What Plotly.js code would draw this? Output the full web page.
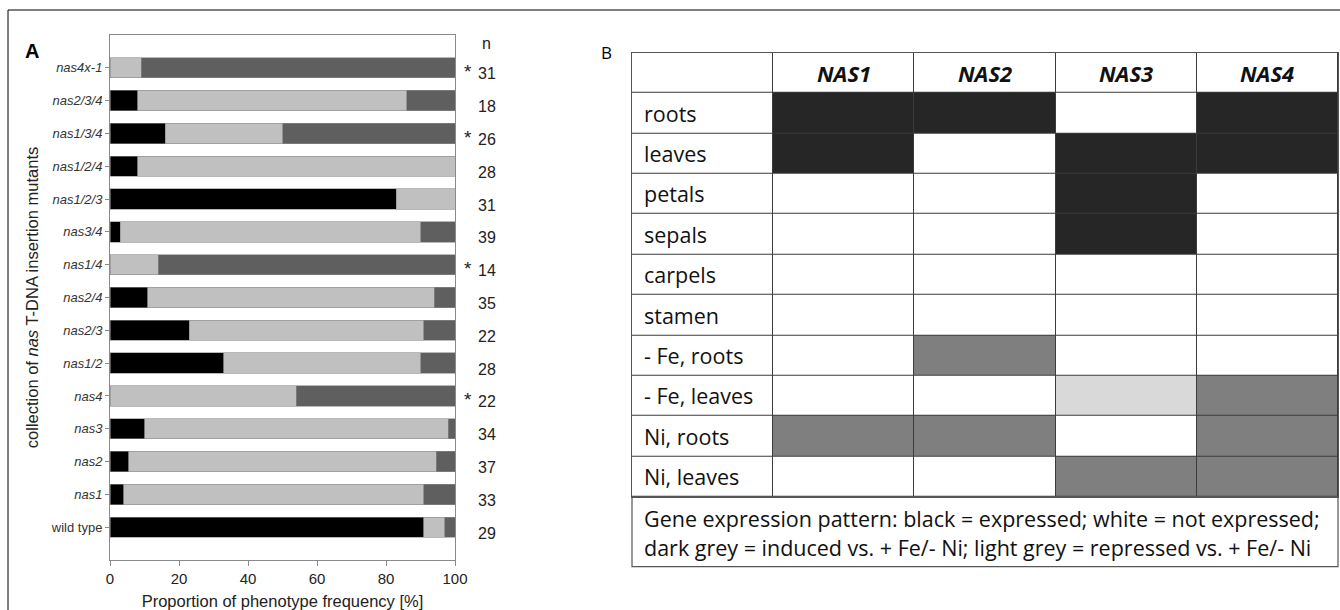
<!DOCTYPE html>
<html><head><meta charset="utf-8">
<script src="https://cdn.plot.ly/plotly-3.0.1.min.js"></script>
<style>html,body{margin:0;padding:0;background:#fff}#chart{width:1340px;height:610px}</style>
</head><body><div id="chart"></div>
<script>
// ---------- Panel A data (top to bottom) ----------
const mutants = ['nas4x-1','nas2/3/4','nas1/3/4','nas1/2/4','nas1/2/3','nas3/4','nas1/4','nas2/4','nas2/3','nas1/2','nas4','nas3','nas2','nas1','wild type'];
const phenotypeBlack = [0, 8, 16, 8, 83, 3, 0, 11, 23, 33, 0, 10, 5.4, 4, 91];
const phenotypeLight = [9, 78, 34, 92, 17, 87, 14, 83, 68, 57, 54, 88, 89.2, 87, 6];
const phenotypeDark  = [91, 14, 50, 0, 0, 10, 86, 6, 9, 10, 46, 2, 5.4, 9, 3];
const sampleSize = [31, 18, 26, 28, 31, 39, 14, 35, 22, 28, 22, 34, 37, 33, 29];
const significant = ['nas4x-1','nas1/3/4','nas1/4','nas4'];
const xTickVals = [0, 20, 40, 60, 80, 100];

// ---------- Panel B data ----------
const genes = ['NAS1','NAS2','NAS3','NAS4'];
const tissues = ['roots','leaves','petals','sepals','carpels','stamen','- Fe, roots','- Fe, leaves','Ni, roots','Ni, leaves'];
// E = expressed (black), N = not expressed (white), I = induced (dark grey), R = repressed (light grey)
const nas1Pattern = ['E','E','N','N','N','N','N','N','I','N'];
const nas2Pattern = ['E','N','N','N','N','N','I','N','I','N'];
const nas3Pattern = ['N','E','E','E','N','N','N','R','N','I'];
const nas4Pattern = ['E','E','N','N','N','N','N','I','I','I'];
const legendLines = ['Gene expression pattern: black = expressed; white = not expressed;',
                     'dark grey = induced vs. + Fe/- Ni; light grey = repressed vs. + Fe/- Ni'];

// ---------- helpers ----------
const W = 1340, H = 610;
const px = x => x / W;
const py = y => 1 - y / H;
const ARIAL = 'Liberation Sans, Arial, sans-serif';
const TFONT = 'Open Sans, Noto Sans, sans-serif';

const yOrder = mutants.slice().reverse();
const tickText = mutants.map(m => m === 'wild type' ? m : '<i>' + m + '</i>');

function barTrace(name, vals, color) {
  return {
    type: 'bar', orientation: 'h', name: name,
    y: mutants, x: vals, width: 0.62,
    marker: {color: color, line: {color: '#8a8a8a', width: 0.6}},
    xaxis: 'x', yaxis: 'y', showlegend: false, hoverinfo: 'x+y+name'
  };
}

const codeOf = {N: 0, E: 1, I: 2, R: 3};
const patterns = [nas1Pattern, nas2Pattern, nas3Pattern, nas4Pattern];
const colCats = ['label'].concat(genes);
const rowCats = ['header'].concat(tissues);
const z = rowCats.map((r, ri) => colCats.map((c, ci) => {
  if (ri === 0 || ci === 0) return 0;
  return codeOf[patterns[ci - 1][ri - 1]];
}));

const traces = [
  barTrace('class 1', phenotypeBlack, '#000000'),
  barTrace('class 2', phenotypeLight, '#c0c0c0'),
  barTrace('class 3', phenotypeDark, '#5f5f5f'),
  {
    type: 'heatmap', x: colCats, y: rowCats, z: z,
    zmin: 0, zmax: 3, showscale: false, xgap: 1, ygap: 1,
    colorscale: [[0,'#ffffff'],[0.1667,'#ffffff'],[0.1667,'#262626'],[0.5,'#262626'],
                 [0.5,'#7f7f7f'],[0.8333,'#7f7f7f'],[0.8333,'#d9d9d9'],[1,'#d9d9d9']],
    xaxis: 'x2', yaxis: 'y2', hoverinfo: 'skip'
  }
];

const annotations = [];
// n header
annotations.push({xref: 'x domain', yref: 'y domain', x: 1, y: 1, xshift: 32, yshift: -9,
  xanchor: 'center', yanchor: 'middle', showarrow: false, text: 'n',
  font: {family: ARIAL, size: 16, color: '#222'}});
mutants.forEach((m, i) => {
  annotations.push({xref: 'x domain', yref: 'y', x: 1, y: m, xshift: 32, yshift: -6,
    xanchor: 'center', yanchor: 'middle', showarrow: false, text: String(sampleSize[i]),
    font: {family: ARIAL, size: 16, color: '#222'}});
  if (significant.includes(m)) {
    annotations.push({xref: 'x domain', yref: 'y', x: 1, y: m, xshift: 13, yshift: -4,
      xanchor: 'center', yanchor: 'middle', showarrow: false, text: '*',
      font: {family: ARIAL, size: 19, color: '#222'}});
  }
});
// panel letters
annotations.push({xref: 'paper', yref: 'paper', x: px(32), y: py(51), xanchor: 'center', yanchor: 'middle',
  showarrow: false, text: '<b>A</b>', font: {family: ARIAL, size: 20, color: '#000'}});
annotations.push({xref: 'paper', yref: 'paper', x: px(606), y: py(52), xanchor: 'center', yanchor: 'middle',
  showarrow: false, text: 'B', font: {family: TFONT, size: 17, color: '#000'}});
// table header
genes.forEach(g => {
  annotations.push({xref: 'x2', yref: 'y2', x: g, y: 'header', showarrow: false,
    xanchor: 'center', yanchor: 'middle', text: '<b><i>' + g + '</i></b>',
    font: {family: TFONT, size: 22, color: '#111'}});
});
// row labels
tissues.forEach(t => {
  annotations.push({xref: 'x2', yref: 'y2', x: -0.5, y: t, xshift: 10, showarrow: false,
    xanchor: 'left', yanchor: 'middle', text: t,
    font: {family: TFONT, size: 21.5, color: '#111'}});
});
// footer legend
const footerFrac = -70 / 444;
legendLines.forEach((l, i) => {
  annotations.push({xref: 'x2 domain', yref: 'y2 domain', x: 0, y: footerFrac * (0.31 + 0.41 * i),
    xshift: 10, showarrow: false, xanchor: 'left', yanchor: 'middle', text: l,
    font: {family: TFONT, size: 21.5, color: '#111'}});
});

const shapes = [
  {type: 'rect', xref: 'x2 domain', yref: 'y2 domain', x0: 0, x1: 1, y0: 0, y1: 1,
   fillcolor: '#3c3c3c', line: {width: 0}, layer: 'below'},
  {type: 'rect', xref: 'x2 domain', yref: 'y2 domain', x0: 0, x1: 1, y0: 0, y1: footerFrac,
   fillcolor: 'rgba(0,0,0,0)', line: {color: '#555', width: 1.2}},
  {type: 'line', xref: 'paper', yref: 'paper', x0: px(8), x1: 1, y0: py(10), y1: py(10), line: {color: '#000', width: 1}},
  {type: 'line', xref: 'paper', yref: 'paper', x0: px(8), x1: px(8), y0: py(10), y1: 0, line: {color: '#000', width: 1}}
];

const layout = {
  width: W, height: H, margin: {l: 0, r: 0, t: 0, b: 0},
  paper_bgcolor: '#fff', plot_bgcolor: '#fff', barmode: 'stack', showlegend: false,
  xaxis: {domain: [px(110), px(455)], range: [0, 100], tickvals: xTickVals,
    showline: true, mirror: true, linecolor: '#8a8a8a', linewidth: 1,
    ticks: 'outside', ticklen: 5, tickcolor: '#8a8a8a', showgrid: false, zeroline: false,
    tickfont: {family: ARIAL, size: 15, color: '#222'},
    title: {text: 'Proportion of phenotype frequency [%]', standoff: 17,
      font: {family: ARIAL, size: 16.5, color: '#222'}}},
  yaxis: {domain: [py(560), py(35)], type: 'category', categoryorder: 'array', categoryarray: yOrder,
    range: [-1, 15], tickvals: mutants, ticktext: tickText,
    showline: true, mirror: true, linecolor: '#8a8a8a', linewidth: 1,
    ticks: 'outside', ticklen: 4, tickcolor: '#8a8a8a', showgrid: false, zeroline: false,
    tickfont: {family: ARIAL, size: 13, color: '#333'},
    title: {text: 'collection of <i>nas</i> T-DNA insertion mutants', standoff: 8,
      font: {family: ARIAL, size: 16.5, color: '#222'}}},
  xaxis2: {domain: [px(632), px(1338)], anchor: 'y2', type: 'category',
    showticklabels: false, ticks: '', showgrid: false, zeroline: false,
    showline: true, mirror: true, linecolor: '#555', linewidth: 1},
  yaxis2: {domain: [py(496.7), py(52.7)], anchor: 'x2', type: 'category', autorange: 'reversed',
    showticklabels: false, ticks: '', showgrid: false, zeroline: false,
    showline: true, mirror: true, linecolor: '#555', linewidth: 1},
  annotations: annotations, shapes: shapes
};

Plotly.newPlot('chart', traces, layout, {displayModeBar: false, staticPlot: true});
</script></body></html>
